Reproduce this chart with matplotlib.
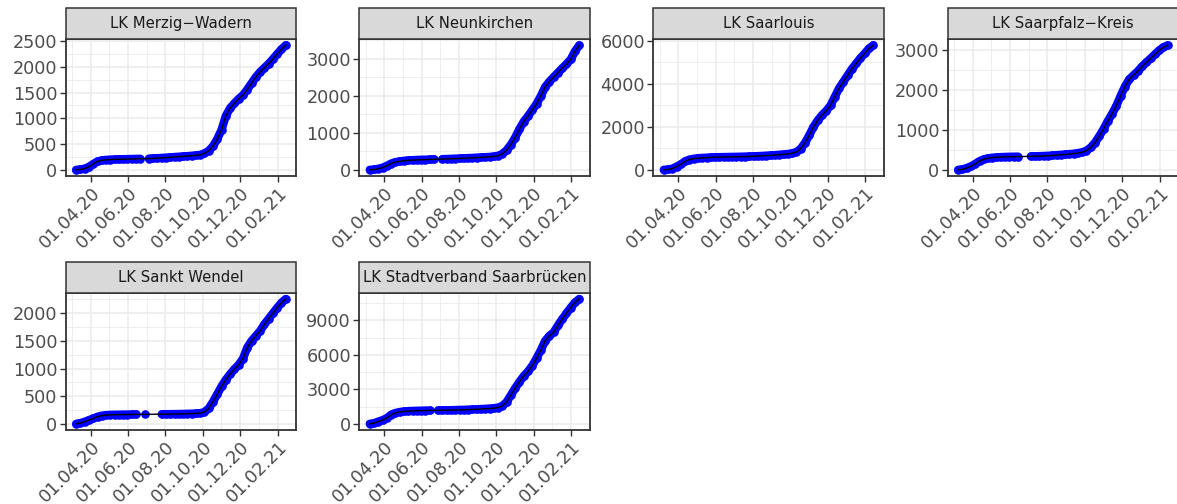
import numpy as np
import pandas as pd
import matplotlib
matplotlib.use("Agg")
import matplotlib.pyplot as plt
import matplotlib.dates as mdates
from matplotlib.patches import Rectangle

# weekly cumulative case counts per district
dates = pd.date_range("2020-03-08", periods=50, freq="7D")
nan = np.nan

merzig = [2, 8, 25, 60, 115, 165, 185, 195, 200, 203, 206, 208, 210, 212, 214, 216,
          nan, 220, 224, 228, 233, 238, 244, 250, 256, 262, 268, 275, 283, 292,
          320, 370, 460, 600, 780, 1050, 1200, 1290, 1380, 1450, 1560, 1680, 1800,
          1900, 1980, 2060, 2150, 2250, 2340, 2420]
neunkirchen = [2, 10, 30, 60, 110, 170, 210, 230, 245, 255, 262, 268, 272, 276, 280, 284,
               nan, 290, 294, 298, 302, 307, 312, 318, 324, 330, 336, 342, 350, 360,
               380, 430, 530, 680, 870, 1100, 1300, 1450, 1610, 1780, 1990, 2230, 2380,
               2500, 2620, 2740, 2850, 2980, 3200, 3360]
saarlouis = [5, 20, 60, 150, 260, 400, 480, 520, 545, 560, 570, 580, 588, 594, 598, 602,
             606, 610, 615, 620, 626, 634, 642, 652, 664, 676, 690, 705, 720, 740,
             770, 830, 980, 1250, 1600, 2000, 2300, 2550, 2750, 3000, 3400, 3800, 4100,
             4400, 4700, 4950, 5200, 5420, 5650, 5800]
saarpfalz = [3, 15, 45, 90, 150, 220, 265, 290, 305, 315, 320, 325, 328, 330, 332, nan,
             nan, 338, 341, 344, 348, 353, 360, 368, 376, 385, 395, 405, 420, 440,
             480, 560, 680, 840, 1020, 1220, 1400, 1600, 1850, 2080, 2260, 2360, 2460,
             2580, 2680, 2780, 2880, 2980, 3060, 3110]
wendel = [3, 15, 40, 70, 100, 130, 150, 160, 164, 166, 168, 169, 170, 171, 172, nan,
          174, nan, nan, nan, 176, 177, 178, 179, 180, 182, 184, 186, 189, 195,
          215, 280, 400, 540, 680, 800, 900, 990, 1070, 1180, 1380, 1500, 1590,
          1680, 1800, 1900, 2000, 2100, 2190, 2260]
saarbruecken = [10, 60, 200, 330, 500, 800, 950, 1030, 1080, 1110, 1130, 1140, 1150, 1158, 1165, nan,
                1175, 1180, 1188, 1196, 1205, 1215, 1225, 1240, 1255, 1270, 1290, 1310, 1335, 1365,
                1420, 1560, 1900, 2500, 3100, 3650, 4150, 4550, 5050, 5700, 6400, 7200, 7650,
                7950, 8550, 9100, 9600, 10100, 10550, 10850]

names = ["LK Merzig\u2212Wadern", "LK Neunkirchen", "LK Saarlouis", "LK Saarpfalz\u2212Kreis",
         "LK Sankt Wendel", "LK Stadtverband Saarbr\u00fccken"]
series = [merzig, neunkirchen, saarlouis, saarpfalz, wendel, saarbruecken]
yticks = [[0, 500, 1000, 1500, 2000, 2500], [0, 1000, 2000, 3000], [0, 2000, 4000, 6000],
          [0, 1000, 2000, 3000], [0, 500, 1000, 1500, 2000], [0, 3000, 6000, 9000]]
xtick_dates = ["2020-04-01", "2020-06-01", "2020-08-01", "2020-10-01", "2020-12-01", "2021-02-01"]

W, H = 1177, 504
fig = plt.figure(figsize=(W / 100, H / 100), dpi=100)

lefts = [65.7, 359.3, 653.3, 947.7]
pw = 230.5
rows = [(39, 176), (292.7, 430)]
strip_h = 31

xt = mdates.date2num(pd.to_datetime(xtick_dates))
step = xt[1] - xt[0]
xminor = np.concatenate([[xt[0] - step / 2], (xt[:-1] + xt[1:]) / 2, [xt[-1] + step / 2]])
xnum = mdates.date2num(dates)
span = xnum[-1] - xnum[0]
xlim = (xnum[0] - 0.05 * span, xnum[-1] + 0.05 * span)

grid_major = "#EBEBEB"
dark = "#333333"

for i, (name, vals, yt) in enumerate(zip(names, series, yticks)):
    r, c = divmod(i, 4)
    top, bot = rows[r]
    ax = fig.add_axes([lefts[c] / W, 1 - bot / H, pw / W, (bot - top) / H])
    v = np.array(vals, dtype=float)
    ok = ~np.isnan(v)
    # dense points in the original -> thick band of blue dots
    ax.plot(xnum, v, color="blue", lw=6, solid_capstyle="round", zorder=3)
    ax.plot(xnum[ok], v[ok], "o", color="blue", ms=6.2, mew=0, zorder=3)
    ax.plot(xnum[ok], v[ok], color="black", lw=1.0, zorder=4)

    ystep = yt[1] - yt[0]
    ax.set_yticks(yt)
    ax.set_yticklabels([str(t) for t in yt])
    ax.set_yticks(np.arange(yt[0] - ystep / 2, yt[-1] + ystep, ystep), minor=True)
    ax.set_xticks(xt)
    ax.set_xticklabels([pd.Timestamp(d).strftime("%d.%m.%y") for d in xtick_dates],
                       rotation=45, ha="right", va="top", rotation_mode="anchor")
    ax.set_xticks(xminor, minor=True)
    lo, hi = np.nanmin(v), np.nanmax(v)
    ax.set_ylim(lo - 0.05 * (hi - lo), hi + 0.05 * (hi - lo))
    ax.set_xlim(xlim)

    ax.grid(True, which="major", color=grid_major, lw=1.1, zorder=0)
    ax.grid(True, which="minor", color=grid_major, lw=0.6, zorder=0)
    ax.set_axisbelow(True)
    ax.tick_params(which="major", length=4, width=1, color=dark,
                   labelsize=12.7, labelcolor="#4D4D4D", pad=2)
    ax.tick_params(which="minor", length=0)
    for s in ax.spines.values():
        s.set_color(dark)
        s.set_linewidth(1.3)

    # facet strip
    fig.patches.append(Rectangle((lefts[c] / W, 1 - top / H), pw / W, strip_h / H,
                                 transform=fig.transFigure, facecolor="#D9D9D9",
                                 edgecolor=dark, lw=1.1, zorder=1))
    fig.text((lefts[c] + pw / 2) / W, 1 - (top - strip_h / 2) / H, name,
             ha="center", va="center", fontsize=10.7, color="#1A1A1A")

fig.savefig("out.png", dpi=100)
